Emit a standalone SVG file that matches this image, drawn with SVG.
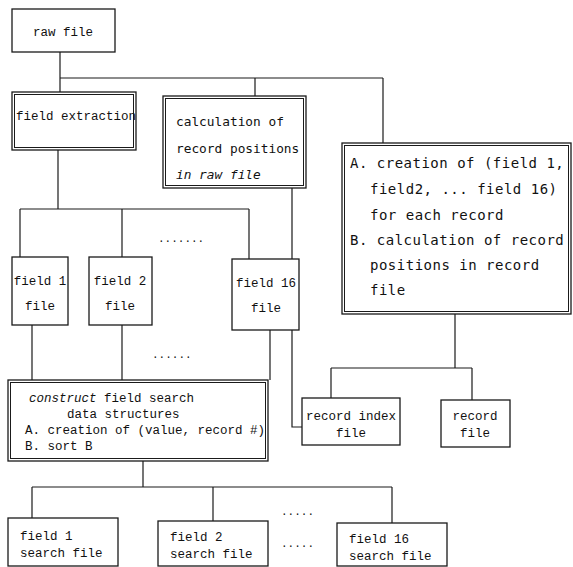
<svg xmlns="http://www.w3.org/2000/svg" width="573" height="567" viewBox="0 0 573 567">
<style>
.bg{fill:#fff}
.box{fill:#fff;stroke:#1a1a1a;stroke-width:1.3}
.inner{fill:none;stroke:#1a1a1a;stroke-width:1}
.ln{fill:none;stroke:#1a1a1a;stroke-width:1.2}
.t{font-family:"Liberation Mono","DejaVu Sans Mono",monospace;fill:#111;font-size:12.5px}
.s{font-family:"DejaVu Sans Mono","Liberation Mono",monospace;fill:#111;font-size:12.8px}
.r{font-family:"DejaVu Sans Mono","Liberation Mono",monospace;fill:#111;font-size:14px;letter-spacing:0.5px}
.dot{font-family:"Liberation Mono",monospace;fill:#111;font-size:11px}
</style>
<rect class="bg" x="0" y="0" width="573" height="567"/>
<g id="connectors">
<polyline class="ln" points="60,52 60,78"/>
<polyline class="ln" points="60,78 383,78"/>
<polyline class="ln" points="60,78 60,92"/>
<polyline class="ln" points="255,78 255,96"/>
<polyline class="ln" points="383,78 383,143"/>
<polyline class="ln" points="58,150 58,209"/>
<polyline class="ln" points="20,209 249,209"/>
<polyline class="ln" points="20,209 20,257"/>
<polyline class="ln" points="122,209 122,257"/>
<polyline class="ln" points="249,209 249,259"/>
<polyline class="ln" points="32,325 32,380"/>
<polyline class="ln" points="122,325 122,380"/>
<polyline class="ln" points="270,330 270,380"/>
<polyline class="ln" points="292,188 292,427 302,427"/>
<polyline class="ln" points="455,314 455,368"/>
<polyline class="ln" points="331,368 472,368"/>
<polyline class="ln" points="331,368 331,398"/>
<polyline class="ln" points="472,368 472,400"/>
<polyline class="ln" points="143,461 143,487"/>
<polyline class="ln" points="32,487 392,487"/>
<polyline class="ln" points="32,487 32,518"/>
<polyline class="ln" points="213,487 213,521"/>
<polyline class="ln" points="392,487 392,523"/>
</g>
<g id="raw-file">
<rect class="box" x="12" y="9" width="103" height="43"/>
<text class="t" x="63" y="36" text-anchor="middle">raw file</text>
</g>
<g id="field-extraction">
<rect class="box" x="12" y="92" width="124" height="58"/>
<rect class="inner" x="14.5" y="94.5" width="119" height="53"/>
<text class="t" x="16" y="120">field extraction</text>
</g>
<g id="calc-positions">
<rect class="box" x="163" y="96" width="143" height="92"/>
<rect class="inner" x="165.5" y="98.5" width="138" height="87"/>
<text class="s" x="176" y="126">calculation of</text>
<text class="s" x="176" y="153">record positions</text>
<text class="s" x="176" y="179" font-style="italic">in raw file</text>
</g>
<g id="record-creation">
<rect class="box" x="342" y="143" width="229" height="171"/>
<rect class="inner" x="344.5" y="145.5" width="224" height="166"/>
<text class="r" x="350" y="168">A. creation of (field 1,</text>
<text class="r" x="370" y="194">field2, ... field 16)</text>
<text class="r" x="370" y="220">for each record</text>
<text class="r" x="350" y="245">B. calculation of record</text>
<text class="r" x="370" y="270">positions in record</text>
<text class="r" x="370" y="295">file</text>
</g>
<g id="field1-file">
<rect class="box" x="12" y="257" width="56" height="68"/>
<text class="t" x="40" y="285" text-anchor="middle">field 1</text>
<text class="t" x="40" y="310" text-anchor="middle">file</text>
</g>
<g id="field2-file">
<rect class="box" x="89" y="257" width="63" height="68"/>
<text class="t" x="120" y="285" text-anchor="middle">field 2</text>
<text class="t" x="120" y="310" text-anchor="middle">file</text>
</g>
<text class="dot" x="158" y="242">.......</text>
<g id="field16-file">
<rect class="box" x="232" y="259" width="67" height="71"/>
<text class="t" x="266" y="287" text-anchor="middle">field 16</text>
<text class="t" x="266" y="312" text-anchor="middle">file</text>
</g>
<text class="dot" x="152" y="358">......</text>
<g id="construct">
<rect class="box" x="8" y="380" width="260" height="81"/>
<rect class="inner" x="10.5" y="382.5" width="255" height="76"/>
<text class="t" x="29" y="402"><tspan font-style="italic">construct</tspan>  field search</text>
<text class="t" x="67" y="418">data structures</text>
<text class="t" x="25" y="434">A. creation of (value, record #)</text>
<text class="t" x="25" y="450">B. sort B</text>
</g>
<g id="record-index-file">
<rect class="box" x="302" y="398" width="98" height="47"/>
<text class="t" x="351" y="420" text-anchor="middle">record index</text>
<text class="t" x="351" y="437" text-anchor="middle">file</text>
</g>
<g id="record-file">
<rect class="box" x="441" y="400" width="69" height="47"/>
<text class="t" x="475" y="420" text-anchor="middle">record</text>
<text class="t" x="475" y="437" text-anchor="middle">file</text>
</g>
<g id="field1-search">
<rect class="box" x="8" y="518" width="110" height="48"/>
<text class="t" x="20" y="540">field 1</text>
<text class="t" x="20" y="557">search file</text>
</g>
<g id="field2-search">
<rect class="box" x="158" y="521" width="110" height="45"/>
<text class="t" x="170" y="541">field 2</text>
<text class="t" x="170" y="558">search file</text>
</g>
<text class="dot" x="281" y="515">.....</text>
<text class="dot" x="281" y="547">.....</text>
<g id="field16-search">
<rect class="box" x="337" y="523" width="110" height="43"/>
<text class="t" x="349" y="543">field 16</text>
<text class="t" x="349" y="560">search file</text>
</g>
</svg>
